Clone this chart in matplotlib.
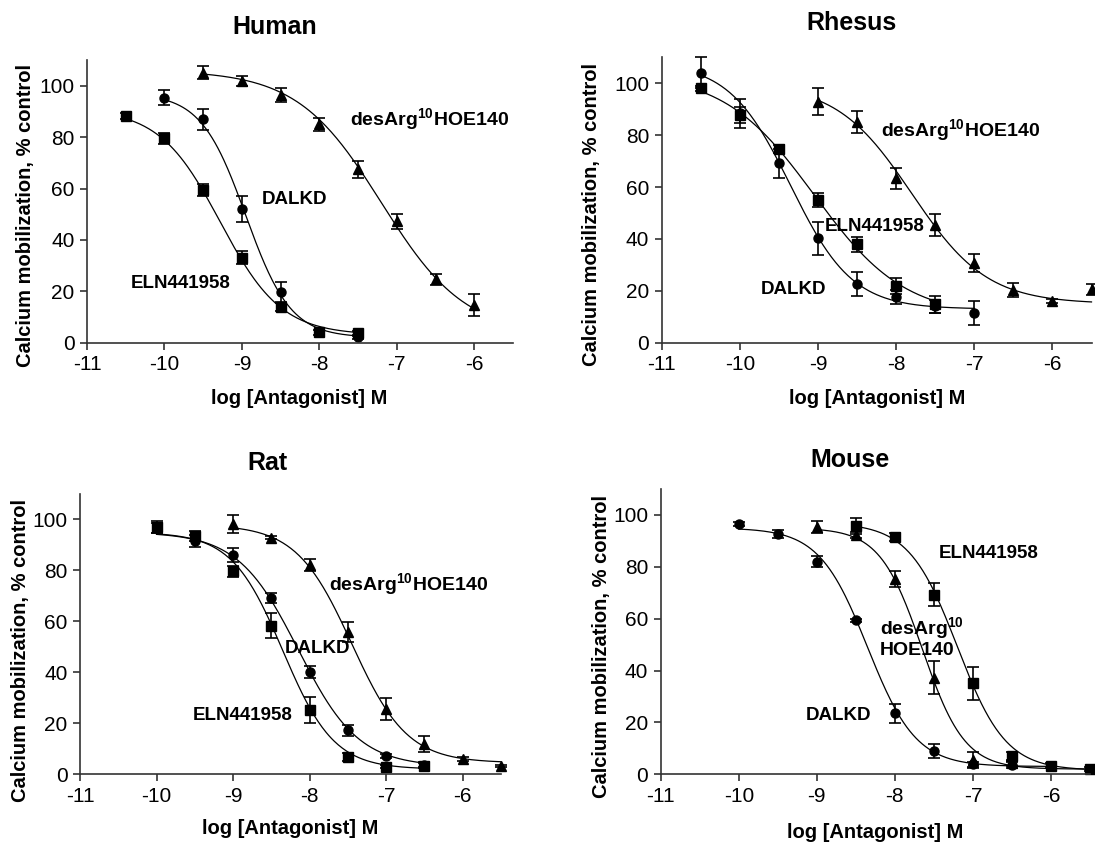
import numpy as np
import matplotlib
matplotlib.use("Agg")
import matplotlib.pyplot as plt

plt.rcParams['font.family'] = ['Liberation Sans', 'DejaVu Sans']
plt.rcParams['mathtext.fontset'] = 'custom'
plt.rcParams['mathtext.rm'] = 'Liberation Sans'
plt.rcParams['mathtext.bf'] = 'Liberation Sans:bold'
plt.rcParams['axes.unicode_minus'] = False

W, H = 1095, 842

# ---- data: log dose, % control, SEM ----
# Human
hu_eln_x = [-10.5, -10, -9.5, -9, -8.5, -8, -7.5]
hu_eln_y = [88.2, 79.5, 59.4, 33.1, 14.0, 4.0, 3.6]
hu_eln_e = [1.2, 2.0, 2.2, 2.6, 1.8, 1.0, 1.0]
hu_dal_x = [-10, -9.5, -9, -8.5, -7.5]
hu_dal_y = [95.3, 86.9, 52.0, 19.6, 2.1]
hu_dal_e = [3.0, 4.0, 5.2, 4.2, 0.8]
hu_des_x = [-9.5, -9, -8.5, -8, -7.5, -7, -6.5, -6]
hu_des_y = [105.0, 101.8, 96.4, 85.0, 67.4, 47.3, 24.6, 14.7]
hu_des_e = [2.5, 2.1, 2.8, 2.6, 3.2, 2.9, 2.0, 4.2]

# Rhesus
rh_eln_x = [-10.5, -10, -9.5, -9, -8.5, -8, -7.5]
rh_eln_y = [98.1, 87.8, 74.7, 54.9, 37.9, 21.9, 14.8]
rh_eln_e = [1.0, 3.0, 1.6, 2.7, 2.8, 3.0, 3.3]
rh_dal_x = [-10.5, -10, -9.5, -9, -8.5, -8, -7.5, -7]
rh_dal_y = [104.1, 88.4, 69.2, 40.2, 22.6, 17.7, 14.1, 11.3]
rh_dal_e = [6.0, 5.6, 5.6, 6.2, 4.5, 2.8, 2.5, 4.6]
rh_des_x = [-9, -8.5, -8, -7.5, -7, -6.5, -6, -5.5]
rh_des_y = [92.9, 85.2, 63.4, 45.4, 30.6, 20.3, 16.1, 20.6]
rh_des_e = [5.3, 4.3, 4.0, 4.2, 3.5, 2.8, 0.8, 2.2]

# Rat
ra_eln_x = [-10, -9.5, -9, -8.5, -8, -7.5, -7, -6.5]
ra_eln_y = [97.1, 93.4, 79.7, 58.3, 25.3, 6.7, 3.0, 3.4]
ra_eln_e = [2.5, 2.0, 2.2, 4.9, 5.1, 1.5, 0.6, 1.0]
ra_dal_x = [-10, -9.5, -9, -8.5, -8, -7.5, -7, -6.5]
ra_dal_y = [96.5, 91.5, 86.0, 69.2, 40.0, 17.2, 7.3, 3.7]
ra_dal_e = [2.0, 2.4, 2.8, 1.8, 2.4, 2.2, 0.8, 1.0]
ra_des_x = [-9, -8.5, -8, -7.5, -7, -6.5, -6, -5.5]
ra_des_y = [98.3, 92.8, 82.0, 55.8, 25.7, 11.9, 6.0, 3.3]
ra_des_e = [3.5, 0.6, 2.3, 4.0, 4.3, 3.3, 0.6, 0.5]

# Mouse
mo_dal_x = [-10, -9.5, -9, -8.5, -8, -7.5, -7, -6.5]
mo_dal_y = [96.5, 92.5, 82.0, 59.3, 23.5, 9.0, 3.9, 3.6]
mo_dal_e = [0.6, 1.5, 2.0, 0.6, 3.6, 2.8, 1.0, 1.0]
mo_des_x = [-9, -8.5, -8, -7.5, -7, -6.5]
mo_des_y = [95.2, 92.3, 75.3, 37.3, 5.5, 4.2]
mo_des_e = [2.3, 1.0, 3.0, 6.3, 3.0, 1.0]
mo_eln_x = [-8.5, -8, -7.5, -7, -6.5, -6, -5.5]
mo_eln_y = [95.8, 91.4, 69.2, 35.1, 7.2, 3.3, 2.1]
mo_eln_e = [3.0, 1.5, 4.5, 6.3, 1.5, 1.0, 0.8]

# fitted sigmoid params: top, bottom, logIC50, hill, x start, x end
hu_fits = {'eln': (91, 3, -9.28, 1.1, -10.5, -7.5),
           'dal': (97, 2, -8.95, 1.5, -10, -7.5),
           'des': (106, 3, -7.2, 0.8, -9.5, -6)}
rh_fits = {'eln': (104, 10, -9.05, 0.75, -10.5, -7.5),
           'dal': (108, 13, -9.35, 1.1, -10.5, -7),
           'des': (100, 15, -7.8, 0.9, -9, -5.5)}
ra_fits = {'eln': (95, 2, -8.35, 1.3, -10, -6.5),
           'dal': (95, 3, -8.15, 1.1, -10, -6.5),
           'des': (98, 4.5, -7.45, 1.2, -9, -5.5)}
mo_fits = {'eln': (97, 1.5, -7.2, 1.4, -8.5, -5.5),
           'dal': (95, 3, -8.35, 1.4, -10, -6),
           'des': (95, 2, -7.65, 1.6, -9, -5.5)}

SUP = r'desArg$^{\mathbf{10}}$HOE140'


def sigmoid(p):
    top, bot, ic50, hill, x0, x1 = p
    x = np.linspace(x0, x1, 200)
    return x, bot + (top - bot) / (1 + 10 ** ((x - ic50) * hill))


def panel(rect, series, fits):
    l, r, b, t = rect
    ax = fig.add_axes([l / W, 1 - b / H, (r - l) / W, (b - t) / H])
    for key, mk, ms in [('eln', 's', 7), ('dal', 'o', 6.5), ('des', '^', 6.5)]:
        x, y, e = series[key]
        cx, cy = sigmoid(fits[key])
        ax.plot(cx, cy, color='black', lw=0.9, clip_on=False)
        ax.errorbar(x, y, yerr=e, fmt='none', ecolor='black', elinewidth=1.2,
                    capsize=4, capthick=1.2, clip_on=False)
        ax.plot(x, y, mk, color='black', ms=ms, clip_on=False)
    ax.set_xlim(-11, -5.5)
    ax.set_ylim(0, 110)
    ax.set_xticks([-11, -10, -9, -8, -7, -6])
    ax.set_yticks([0, 20, 40, 60, 80, 100])
    for s in ['top', 'right']:
        ax.spines[s].set_visible(False)
    for s in ['left', 'bottom']:
        ax.spines[s].set_linewidth(1.2)
        ax.spines[s].set_color('#333333')
    ax.tick_params(length=5, width=1.2, color='#333333', labelsize=15, pad=4)
    return ax


fig = plt.figure(figsize=(W / 100, H / 100), dpi=100)
lab = dict(fontsize=13.5, fontweight='bold', ha='center', va='center')
labd = dict(fontsize=14, fontweight='bold', ha='center', va='center')

# Human
ax = panel((87, 513, 342.7, 60),
           {'eln': (hu_eln_x, hu_eln_y, hu_eln_e), 'dal': (hu_dal_x, hu_dal_y, hu_dal_e),
            'des': (hu_des_x, hu_des_y, hu_des_e)}, hu_fits)
ax.text(-6.58, 86.9, SUP, **labd)
ax.text(-8.32, 55.8, 'DALKD', **lab)
ax.text(-9.79, 23.1, 'ELN441958', **lab)

# Rhesus
ax = panel((661.8, 1091.5, 342.7, 57.4),
           {'eln': (rh_eln_x, rh_eln_y, rh_eln_e), 'dal': (rh_dal_x, rh_dal_y, rh_dal_e),
            'des': (rh_des_x, rh_des_y, rh_des_e)}, rh_fits)
ax.text(-7.18, 81.7, SUP, **labd)
ax.text(-8.28, 44.7, 'ELN441958', **lab)
ax.text(-9.31, 20.6, 'DALKD', **lab)

# Rat
ax = panel((80, 501, 774.3, 494),
           {'eln': (ra_eln_x, ra_eln_y, ra_eln_e), 'dal': (ra_dal_x, ra_dal_y, ra_dal_e),
            'des': (ra_des_x, ra_des_y, ra_des_e)}, ra_fits)
ax.text(-6.71, 74.4, SUP, **labd)
ax.text(-7.9, 49.3, 'DALKD', **lab)
ax.text(-8.88, 23.1, 'ELN441958', **lab)

# Mouse
ax = panel((660.7, 1090, 774.3, 489),
           {'eln': (mo_eln_x, mo_eln_y, mo_eln_e), 'dal': (mo_dal_x, mo_dal_y, mo_dal_e),
            'des': (mo_des_x, mo_des_y, mo_des_e)}, mo_fits)
ax.text(-6.80, 85.0, 'ELN441958', **lab)
ax.text(-8.19, 56.0, r'desArg$^{\mathbf{10}}$', fontsize=14, fontweight='bold',
        ha='left', va='center')
ax.text(-8.19, 47.9, 'HOE140', fontsize=14, fontweight='bold', ha='left', va='center')
ax.text(-8.72, 22.6, 'DALKD', **lab)

# titles and axis labels (pixel positions)
titles = ['Human', 'Rhesus', 'Rat', 'Mouse']
title_xy = [(275, 27), (852, 23), (267, 463), (850, 460)]
ylab_xy = [(26, 215), (592, 214), (21, 650), (601, 646)]
xlab_xy = [(299, 398), (877, 398), (290, 828), (875, 832)]
for t, (tx, ty), (yx, yy), (xx, xy) in zip(titles, title_xy, ylab_xy, xlab_xy):
    fig.text(tx / W, 1 - ty / H, t, fontsize=18, fontweight='bold', ha='center', va='center')
    fig.text(yx / W, 1 - yy / H, 'Calcium mobilization, % control', fontsize=14.5,
             fontweight='bold', rotation=90, ha='center', va='center')
    fig.text(xx / W, 1 - xy / H, 'log [Antagonist] M', fontsize=14.5,
             fontweight='bold', ha='center', va='center')

fig.savefig('out.png', dpi=100)
